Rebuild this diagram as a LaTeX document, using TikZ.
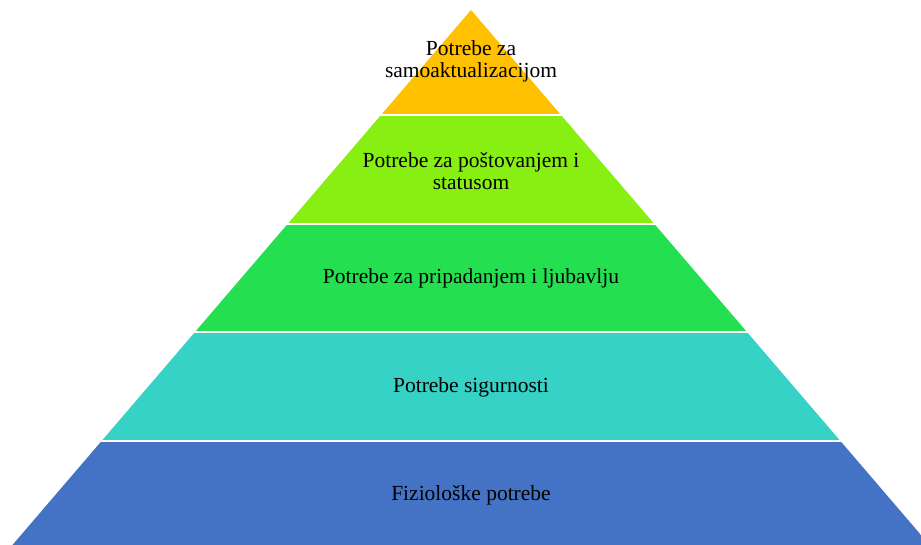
\documentclass[tikz,border=0pt]{standalone}
\usepackage{fontspec}
\setmainfont{Liberation Serif}
\definecolor{selfcol}{HTML}{FFC000}
\definecolor{esteemcol}{HTML}{88EF12}
\definecolor{lovecol}{HTML}{24E050}
\definecolor{safecol}{HTML}{35D2C5}
\definecolor{bodycol}{HTML}{4472C4}

\begin{document}
\begin{tikzpicture}[
    x=1pt, y=-1pt,
    level/.style={font=\fontsize{21.5}{22}\selectfont, align=center, text=black, inner sep=0pt}
]
   \useasboundingbox (0,0) rectangle (921,544);

   % Pyramid bands
   \begin{scope}
      \clip (471,10) -- (942.4,560) -- (-0.4,560) -- cycle;
      \fill[selfcol]   (0,0)   rectangle (921,114);
      \fill[esteemcol] (0,116) rectangle (921,223);
      \fill[lovecol]   (0,225) rectangle (921,331);
      \fill[safecol]   (0,333) rectangle (921,440);
      \fill[bodycol]   (0,442) rectangle (921,560);
   \end{scope}

   % Labels
   \node[level] (self)   at (471,61)  {Potrebe za\\samoaktualizacijom};
   \node[level] (esteem) at (471,171) {Potrebe za poštovanjem i\\statusom};
   \node[level] (love)   at (471,278) {Potrebe za pripadanjem i ljubavlju};
   \node[level] (safe)   at (471,387) {Potrebe sigurnosti};
   \node[level] (body)   at (471,495) {Fiziološke potrebe};
\end{tikzpicture}
\end{document}
